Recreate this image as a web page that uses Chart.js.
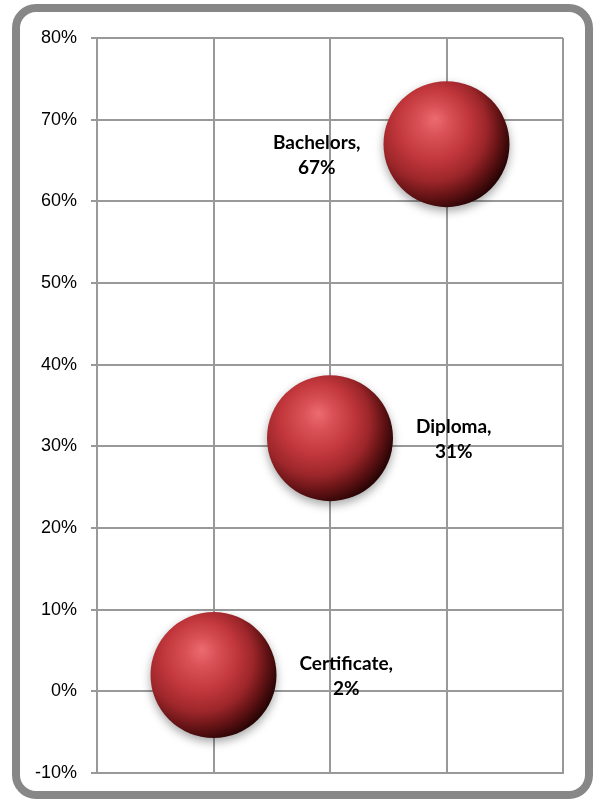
<!DOCTYPE html>
<html>
<head>
<meta charset="utf-8">
<title>Qualification bubble chart</title>
<script src="https://cdn.jsdelivr.net/npm/chart.js@4/dist/chart.umd.min.js"></script>
<style>
  html, body { margin: 0; padding: 0; background: #fff; }
  canvas { display: block; }
</style>
</head>
<body>
<canvas id="chart" width="594" height="800"></canvas>
<script>
// Qualification levels and their share (%)
const categories = ['Certificate', 'Diploma', 'Bachelors'];
const xPositions = [1, 2, 3];
const shares = [2, 31, 67];
const bubbleSizes = [63, 63, 63];

// y axis range and ticks (percent)
const yMin = -10;
const yMax = 80;
const yStep = 10;

const points = categories.map((c, i) => ({ x: xPositions[i], y: shares[i], r: bubbleSizes[i] }));

// glossy sphere fill: off-centre radial gradient
function sphereFill(ctx) {
  const chart = ctx.chart;
  const xs = chart.scales && chart.scales.x;
  const ys = chart.scales && chart.scales.y;
  if (!xs || !ys || !ctx.raw) return '#c0393b';
  const cx = xs.getPixelForValue(ctx.raw.x);
  const cy = ys.getPixelForValue(ctx.raw.y);
  const r = ctx.raw.r;
  if (!isFinite(cx) || !isFinite(cy) || !isFinite(r)) return '#c0393b';
  const g = chart.ctx.createRadialGradient(cx - 0.18 * r, cy - 0.4 * r, 0, cx - 0.25 * r, cy - 0.2 * r, 1.3 * r);
  g.addColorStop(0.0, '#ec6c70');
  g.addColorStop(0.2, '#d84f54');
  g.addColorStop(0.45, '#c0363b');
  g.addColorStop(0.66, '#9c262a');
  g.addColorStop(0.83, '#641315');
  g.addColorStop(1.0, '#280405');
  return g;
}

// rounded frame around the whole chart
const framePlugin = {
  id: 'frame',
  beforeDraw(chart) {
    const c = chart.ctx;
    c.save();
    c.fillStyle = '#ffffff';
    c.fillRect(0, 0, chart.width, chart.height);
    c.strokeStyle = '#878787';
    c.lineWidth = 8;
    c.beginPath();
    c.roundRect(16, 8, 573, 787, 20);
    c.stroke();
    c.restore();
  }
};

// soft drop shadow under the spheres
const shadowPlugin = {
  id: 'sphereShadow',
  beforeDatasetsDraw(chart) {
    const c = chart.ctx;
    c.save();
    c.shadowColor = 'rgba(0,0,0,0.35)';
    c.shadowBlur = 10;
    c.shadowOffsetX = 0;
    c.shadowOffsetY = 4;
  },
  afterDatasetsDraw(chart) {
    chart.ctx.restore();
  }
};

// "Name, value%" labels beside each sphere
const labelPlugin = {
  id: 'bubbleLabels',
  afterDraw(chart, args, opts) {
    const c = chart.ctx;
    const meta = chart.getDatasetMeta(0);
    c.save();
    c.font = 'bold 19px Lato, "Liberation Sans", sans-serif';
    c.fillStyle = '#000';
    c.textAlign = 'center';
    c.textBaseline = 'middle';
    meta.data.forEach((el, i) => {
      const lines = [categories[i] + ',', shares[i] + '%'];
      const w = Math.max(...lines.map(t => c.measureText(t).width));
      const r = points[i].r;
      const gap = 23;
      const side = opts.sides[i];
      const cx = side === 'right' ? el.x + r + gap + w / 2 : el.x - r - gap - w / 2;
      const lh = 25;
      const top = el.y - lh / 2 + 1 + (opts.shiftY[i] || 0);
      lines.forEach((t, j) => c.fillText(t, cx, top + j * lh));
    });
    c.restore();
  }
};

new Chart(document.getElementById('chart'), {
  type: 'bubble',
  data: {
    datasets: [{
      data: points,
      backgroundColor: sphereFill,
      hoverBackgroundColor: sphereFill,
      borderWidth: 0,
      hoverBorderWidth: 0,
      clip: false
    }]
  },
  options: {
    responsive: false,
    animation: false,
    events: [],
    layout: { autoPadding: false, padding: { top: 38, bottom: 27, left: 0, right: 31 } },
    plugins: {
      legend: { display: false },
      tooltip: { enabled: false },
      bubbleLabels: { sides: ['right', 'right', 'left'], shiftY: [0, 0, 10] }
    },
    scales: {
      x: {
        type: 'linear',
        min: 0,
        max: 4,
        ticks: { display: false, stepSize: 1 },
        grid: { color: '#999999', lineWidth: 2, drawTicks: false },
        border: { color: '#999999', width: 2 },
        afterFit(s) { s.height = 0; }
      },
      y: {
        min: yMin,
        max: yMax,
        ticks: {
          stepSize: yStep,
          padding: 14,
          color: '#000',
          font: { family: '"Liberation Sans", Arial, sans-serif', size: 18 },
          callback: v => v + '%'
        },
        grid: { color: '#999999', lineWidth: 2, tickLength: 6, drawTicks: true },
        border: { color: '#999999', width: 2 },
        afterFit(s) { s.width = 97; }
      }
    }
  },
  plugins: [framePlugin, shadowPlugin, labelPlugin]
});
</script>
</body>
</html>
